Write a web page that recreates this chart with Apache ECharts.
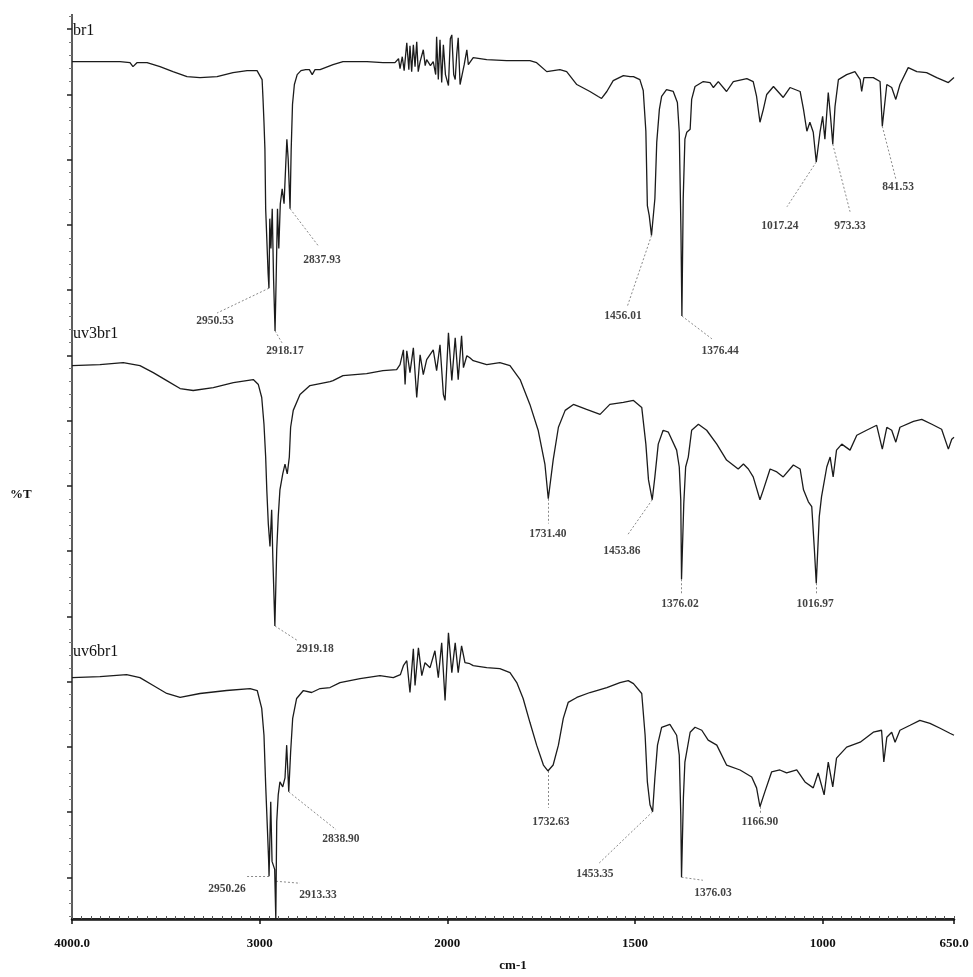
<!DOCTYPE html>
<html>
<head>
<meta charset="utf-8">
<script src="https://cdn.jsdelivr.net/npm/echarts@6/dist/echarts.min.js"></script>
<style>
html, body { margin: 0; padding: 0; background: #fff; }
#myChart { width: 973px; height: 977px; }
</style>
</head>
<body>
<div id="myChart"></div>
<script>
// spectra: [wavenumber cm-1, %T (stacked, arbitrary offset)]
var br1 = [
	[4000, 86.3], [3851, 86.3], [3744, 86.3], [3691, 86.2], [3675, 85.8], [3654, 86.2], [3600, 86.2], [3531, 85.8],
	[3462, 85.3], [3387, 84.8], [3318, 84.7], [3227, 84.8], [3142, 85.2], [3067, 85.4], [3014, 85.4], [2987, 84.5],
	[2982, 82.5], [2977, 80.2], [2972, 77.5], [2968, 71.5], [2962, 68.5], [2955, 65.0], [2950.5, 63.5], [2946, 70.5],
	[2940, 67.5], [2933, 71.5], [2926, 64.5], [2918, 59.2], [2912, 64.5], [2905, 71.5], [2898, 67.5], [2890, 72.0],
	[2880, 73.5], [2870, 72.0], [2862, 75.5], [2855, 78.5], [2848, 76.5], [2838, 71.5], [2832, 77.5], [2825, 82.0],
	[2815, 84.0], [2800, 85.0], [2780, 85.4], [2755, 85.5], [2735, 85.5], [2720, 85.0], [2705, 85.5], [2678, 85.5],
	[2609, 86.0], [2556, 86.3], [2428, 86.3], [2343, 86.2], [2279, 86.2],
	[2270, 86.1], [2260, 86.6], [2252, 85.6], [2240, 86.8], [2230, 85.4], [2216, 88.2], [2205, 85.5], [2199, 87.9],
	[2190, 85.3], [2181, 88.0], [2172, 85.8], [2163, 88.3], [2155, 85.3], [2145, 86.3], [2128, 87.5], [2118, 85.9],
	[2110, 86.5], [2090, 85.9], [2075, 86.3], [2062, 85.0], [2057, 88.8], [2048, 84.5], [2039, 88.5], [2030, 84.2],
	[2021, 88.0], [2010, 85.0], [1997, 83.9], [1992, 88.6], [1988, 89.0], [1983, 85.0], [1979, 84.5], [1975, 87.0],
	[1971, 88.7], [1966, 84.0], [1962, 83.8], [1955, 86.0], [1948, 87.5], [1944, 86.0], [1940, 86.0], [1931, 86.7],
	[1895, 86.5], [1842, 86.4], [1780, 86.4], [1762, 86.2], [1735, 85.3], [1700, 85.5], [1682, 85.3], [1655, 84.0],
	[1620, 83.3], [1598, 82.8], [1589, 82.6], [1575, 83.3], [1558, 84.4], [1531, 84.9], [1513, 84.8], [1504, 84.8],
	[1487, 84.5], [1478, 83.4], [1471, 79.3], [1467, 71.8], [1462, 70.8], [1456, 68.8], [1447, 72.5], [1442, 78.2],
	[1435, 81.5], [1429, 82.8], [1416, 83.5], [1398, 83.3], [1387, 82.2], [1382, 79.2], [1377.5, 69.2], [1375, 60.7],
	[1371.5, 72.5], [1367, 78.5], [1362, 79.2], [1353, 79.5], [1349, 82.5], [1340, 83.8], [1318, 84.3], [1300, 84.2],
	[1291, 83.7], [1278, 84.3], [1256, 83.3], [1238, 84.3], [1202, 84.6], [1185, 84.3], [1176, 82.8], [1167, 80.2],
	[1158, 81.5], [1149, 83.0], [1131, 83.8], [1105, 82.7], [1087, 83.7], [1060, 83.3], [1051, 81.5], [1042, 79.3],
	[1034, 80.2], [1025, 79.2], [1017, 76.2], [1007, 79.2], [1000, 80.8], [994, 78.5], [985, 83.2], [979, 80.8],
	[973, 78.0], [967, 81.8], [958, 84.5], [936, 85.0], [914, 85.3], [900, 84.5], [896, 83.3], [890, 84.7],
	[865, 84.7], [847, 84.3], [841, 79.8], [829, 84.0], [816, 83.7], [805, 82.5], [794, 84.0], [772, 85.7],
	[749, 85.3], [723, 85.2], [696, 84.7], [665, 84.2], [650, 84.7]
];

var uv3br1 = [
	[4000, 55.7], [3851, 55.8], [3727, 56.0], [3638, 55.7], [3567, 55.0], [3495, 54.2], [3424, 53.4], [3354, 53.2],
	[3247, 53.5], [3140, 54.0], [3034, 54.3], [3007, 53.8], [2989, 52.5], [2977, 49.8], [2968, 46.5], [2962, 43.2],
	[2954, 39.8], [2945, 37.5], [2936, 41.2], [2930, 36.5], [2919, 29.5], [2909, 37.2], [2901, 40.5], [2892, 43.2],
	[2877, 44.8], [2865, 45.8], [2853, 44.8], [2842, 46.5], [2835, 49.5], [2821, 51.2], [2785, 52.8], [2732, 53.7],
	[2678, 53.9], [2625, 54.1], [2609, 54.2], [2556, 54.7], [2430, 54.9], [2343, 55.2], [2270, 55.3],
	[2252, 55.8], [2234, 57.3], [2225, 53.8], [2216, 57.2], [2199, 55.0], [2181, 57.5], [2163, 52.5], [2145, 56.8],
	[2128, 54.8], [2110, 56.3], [2075, 57.3], [2057, 55.2], [2039, 57.8], [2021, 52.8], [2012, 52.2], [1997, 59.0],
	[1988, 54.2], [1979, 58.5], [1971, 54.3], [1962, 58.7], [1957, 55.5], [1948, 56.7], [1940, 56.5],
	[1931, 56.2], [1895, 55.8], [1860, 56.0], [1833, 55.7], [1806, 54.3], [1780, 51.8], [1758, 49.2], [1740, 45.8],
	[1731, 42.3], [1718, 46.2], [1704, 49.5], [1686, 51.2], [1664, 51.8], [1629, 51.3], [1593, 50.8], [1567, 51.8],
	[1531, 52.0], [1504, 52.2], [1482, 51.5], [1471, 47.8], [1464, 44.2], [1454, 42.2], [1447, 44.5], [1438, 47.8],
	[1425, 49.2], [1411, 49.0], [1389, 47.2], [1382, 45.5], [1378, 42.2], [1376, 34.2], [1370, 41.8], [1365, 45.5],
	[1358, 46.5], [1349, 49.2], [1331, 49.8], [1309, 49.2], [1282, 47.8], [1256, 46.2], [1225, 45.3], [1211, 45.8],
	[1198, 45.3], [1185, 44.5], [1167, 42.2], [1158, 43.2], [1140, 45.3], [1122, 45.0], [1105, 44.5], [1078, 45.7],
	[1060, 45.3], [1051, 43.2], [1038, 42.0], [1029, 41.5], [1022, 37.2], [1017, 33.8], [1009, 40.5], [1003, 42.5],
	[989, 45.5], [980, 46.5], [972, 44.5], [963, 47.2], [949, 47.8], [927, 47.2], [909, 48.7], [883, 49.2],
	[856, 49.7], [841, 47.3], [829, 49.5], [816, 49.2], [805, 48.0], [794, 49.5], [758, 50.1], [736, 50.3],
	[709, 49.8], [683, 49.3], [665, 47.3], [656, 48.3], [650, 48.5]
];

var uv6br1 = [
	[4000, 24.3], [3851, 24.4], [3709, 24.6], [3638, 24.3], [3567, 23.5], [3495, 22.7], [3424, 22.3], [3318, 22.7],
	[3176, 23.0], [3051, 23.2], [3013, 23.0], [2989, 21.2], [2977, 18.5], [2968, 13.5], [2959, 9.2], [2952, 5.8],
	[2950, 4.3], [2941, 11.8], [2934, 5.8], [2920, 5.0], [2914, 0.0], [2909, 9.8], [2901, 12.5], [2892, 13.8],
	[2877, 13.3], [2865, 14.2], [2856, 17.5], [2845, 12.8], [2835, 16.8], [2824, 20.2], [2803, 22.2], [2767, 23.0],
	[2723, 22.8], [2678, 23.2], [2625, 23.3], [2572, 23.8], [2465, 24.2], [2359, 24.5], [2288, 24.3],
	[2250, 24.6], [2234, 25.5], [2216, 26.0], [2199, 22.8], [2181, 27.2], [2172, 23.5], [2154, 27.3], [2136, 24.5],
	[2119, 25.8], [2092, 25.3], [2066, 27.0], [2048, 24.3], [2030, 27.8], [2012, 22.0], [1997, 28.8], [1988, 24.8],
	[1979, 27.8], [1971, 24.8], [1962, 27.5], [1953, 25.8], [1940, 25.7],
	[1931, 25.5], [1895, 25.3], [1860, 25.2], [1833, 24.8], [1815, 23.8], [1798, 22.2], [1780, 19.8], [1762, 17.5],
	[1744, 15.5], [1732, 14.9], [1718, 15.5], [1704, 17.5], [1691, 20.2], [1678, 21.8], [1655, 22.3], [1620, 22.8],
	[1575, 23.3], [1540, 23.8], [1518, 24.0], [1504, 23.7], [1482, 22.7], [1473, 18.5], [1467, 13.8], [1460, 11.5],
	[1453, 10.8], [1447, 14.2], [1440, 17.5], [1429, 19.3], [1407, 19.6], [1389, 18.5], [1382, 16.5], [1378, 10.5],
	[1376, 4.2], [1371, 12.2], [1367, 15.8], [1362, 16.0], [1353, 18.8], [1340, 19.3], [1322, 19.0], [1305, 18.0],
	[1282, 17.5], [1256, 15.5], [1220, 15.0], [1189, 14.3], [1176, 13.2], [1167, 11.3], [1154, 12.8], [1136, 14.8],
	[1114, 15.0], [1096, 14.7], [1069, 15.0], [1047, 13.8], [1025, 13.2], [1012, 14.7], [996, 12.5], [985, 15.8],
	[973, 13.3], [963, 16.2], [936, 17.3], [900, 17.8], [865, 18.8], [843, 19.0], [837, 15.8], [829, 18.3],
	[816, 18.8], [807, 17.8], [794, 19.0], [767, 19.5], [741, 20.0], [714, 19.7], [687, 19.2], [661, 18.7],
	[650, 18.5]
];

var traceNames = ['br1', 'uv3br1', 'uv6br1'];

var tickWavenumbers = [4000, 3000, 2000, 1500, 1000, 650];
var tickLabels = ['4000.0', '3000', '2000', '1500', '1000', '650.0'];

// peak annotations: [text, wavenumber, %T at the peak]
var peakMarks = [
	['2950.53', 2950.5, 63.5], ['2918.17', 2918, 59.2], ['2837.93', 2838, 71.5], ['1456.01', 1456, 68.8],
	['1376.44', 1375, 60.7], ['1017.24', 1017, 76.2], ['973.33', 973, 78.0], ['841.53', 841, 79.8],
	['2919.18', 2919, 29.5], ['1731.40', 1731, 42.3], ['1453.86', 1454, 42.2], ['1376.02', 1376, 34.2],
	['1016.97', 1017, 33.8],
	['2838.90', 2845, 12.8], ['1732.63', 1732, 14.9], ['2950.26', 2950, 4.3], ['2913.33', 2913, 3.8],
	['1453.35', 1453, 10.8], ['1376.03', 1376, 4.2], ['1166.90', 1167, 11.3]
];
// where the dotted leader of each mark ends, and where its text sits (same order)
var leaderEnds = [
	[3227, 61.0], [2881, 58.0], [2689, 67.8], [1521, 61.6], [1295, 58.4], [1095, 71.7], [927, 71.2], [805, 74.5],
	[2796, 28.0], [1731, 39.8], [1519, 38.7], [1376, 32.8], [1017, 32.8],
	[2593, 9.0], [1732, 11.2], [3067, 4.3], [2785, 3.6], [1599, 5.5], [1319, 3.9], [1167, 10.6]
];
var textAt = [
	[3238, 60.2], [2865, 57.2], [2668, 66.3], [1532, 60.7], [1273, 57.2], [1114, 69.8], [927, 69.8], [799, 73.7],
	[2705, 27.2], [1732, 38.8], [1535, 37.0], [1380, 31.7], [1020, 31.7],
	[2567, 8.0], [1724, 9.8], [3174, 3.0], [2689, 2.4], [1607, 4.5], [1292, 2.6], [1167, 9.8]
];

// the instrument draws 2000-650 at twice the scale of 4000-2000
function toAxis(w) {
	return w >= 2000 ? 4000 - w : 2000 + 2 * (2000 - w);
}
function toPoints(arr) {
	return arr.map(function (d) { return [toAxis(d[0]), d[1]]; });
}

var serifFont = 'Liberation Serif';

// tick positions of the scan (no numbers on %T)
var yMajor = [], yMinor = [], xMinor = [];
for (var k = 0; k <= 13; k++) yMajor.push(4.2 + 6.567 * k);
for (var j = -3; j <= 66; j++) if (j % 5 !== 0) yMinor.push(4.2 + 1.3134 * j);
for (var p = 0; p <= 4700; p += 50) xMinor.push(p);
var xMajor = tickWavenumbers.map(toAxis);

var myChart = echarts.init(document.getElementById('myChart'));

var series = [];
[br1, uv3br1, uv6br1].forEach(function (arr, i) {
	series.push({
		name: traceNames[i],
		type: 'line',
		data: toPoints(arr),
		showSymbol: false,
		symbol: 'none',
		smooth: false,
		clip: false,
		lineStyle: { color: '#1b1b1b', width: 1.3 }
	});
});

// dotted leaders from peak to its number
series.push({
	type: 'lines',
	coordinateSystem: 'cartesian2d',
	silent: true,
	data: peakMarks.map(function (m, i) {
		return { coords: [[toAxis(m[1]), m[2]], [toAxis(leaderEnds[i][0]), leaderEnds[i][1]]] };
	}),
	lineStyle: { color: '#8a8a8a', width: 1, type: [2, 2], opacity: 1 }
});

// the numbers themselves
series.push({
	type: 'scatter',
	silent: true,
	symbolSize: 0,
	data: peakMarks.map(function (m, i) {
		return { name: m[0], value: [toAxis(textAt[i][0]), textAt[i][1]] };
	}),
	label: {
		show: true,
		position: 'inside',
		formatter: '{b}',
		fontFamily: serifFont,
		fontSize: 11.5,
		fontWeight: 'bold',
		color: '#111'
	}
});

var titleTops = [23, 326, 644];
var titles = traceNames.map(function (t, i) {
	return {
		text: t, left: 73, top: titleTops[i], padding: 0,
		textStyle: { fontFamily: serifFont, fontSize: 16, fontWeight: 'normal', color: '#111' }
	};
});
// y axis caption, placed where the scan has it
titles.push({
	text: '%T', left: 10, top: 488, padding: 0,
	textStyle: { fontFamily: serifFont, fontSize: 13, fontWeight: 'bold', color: '#111' }
});

var option = {
	animation: false,
	backgroundColor: '#fff',
	title: titles,
	grid: { left: 72, right: 19, top: 15, bottom: 52, show: false },
	xAxis: [
		{
			type: 'value', min: 0, max: 4700, position: 'bottom',
			axisLine: { show: true, lineStyle: { color: '#111', width: 2.5 } },
			axisTick: { show: true, inside: false, length: 5, customValues: xMajor, lineStyle: { color: '#111', width: 1.5 } },
			axisLabel: {
				show: true, customValues: xMajor, margin: 18,
				fontFamily: serifFont, fontSize: 13, fontWeight: 'bold', color: '#111',
				formatter: function (v) {
					for (var i = 0; i < xMajor.length; i++) {
						if (Math.abs(xMajor[i] - v) < 1) return tickLabels[i];
					}
					return '';
				}
			},
			splitLine: { show: false },
			name: 'cm-1', nameLocation: 'middle', nameGap: 40,
			nameTextStyle: { fontFamily: serifFont, fontSize: 13, fontWeight: 'bold', color: '#111' }
		},
		{
			type: 'value', min: 0, max: 4700, position: 'bottom',
			axisLine: { show: false },
			axisTick: { show: true, inside: true, length: 3, customValues: xMinor, lineStyle: { color: '#555', width: 1 } },
			axisLabel: { show: false },
			splitLine: { show: false }
		},
		{
			type: 'value', min: 0, max: 4700, position: 'top',
			axisLine: { show: true, lineStyle: { color: '#222', width: 2 } },
			axisTick: { show: false },
			axisLabel: { show: false },
			splitLine: { show: false }
		}
	],
	yAxis: [
		{
			type: 'value', min: 0, max: 91, position: 'left',
			axisLine: { show: true, lineStyle: { color: '#111', width: 2 } },
			axisTick: { show: true, inside: false, length: 5, customValues: yMajor, lineStyle: { color: '#222', width: 1.5 } },
			axisLabel: { show: false },
			splitLine: { show: false }
		},
		{
			type: 'value', min: 0, max: 91, position: 'left',
			axisLine: { show: false },
			axisTick: { show: true, inside: false, length: 3, customValues: yMinor, lineStyle: { color: '#777', width: 1 } },
			axisLabel: { show: false },
			splitLine: { show: false }
		},
		{
			type: 'value', min: 0, max: 91, position: 'right',
			axisLine: { show: true, lineStyle: { color: '#777', width: 1.5 } },
			axisTick: { show: false },
			axisLabel: { show: false },
			splitLine: { show: false }
		}
	],
	series: series
};

myChart.setOption(option);
</script>
</body>
</html>
